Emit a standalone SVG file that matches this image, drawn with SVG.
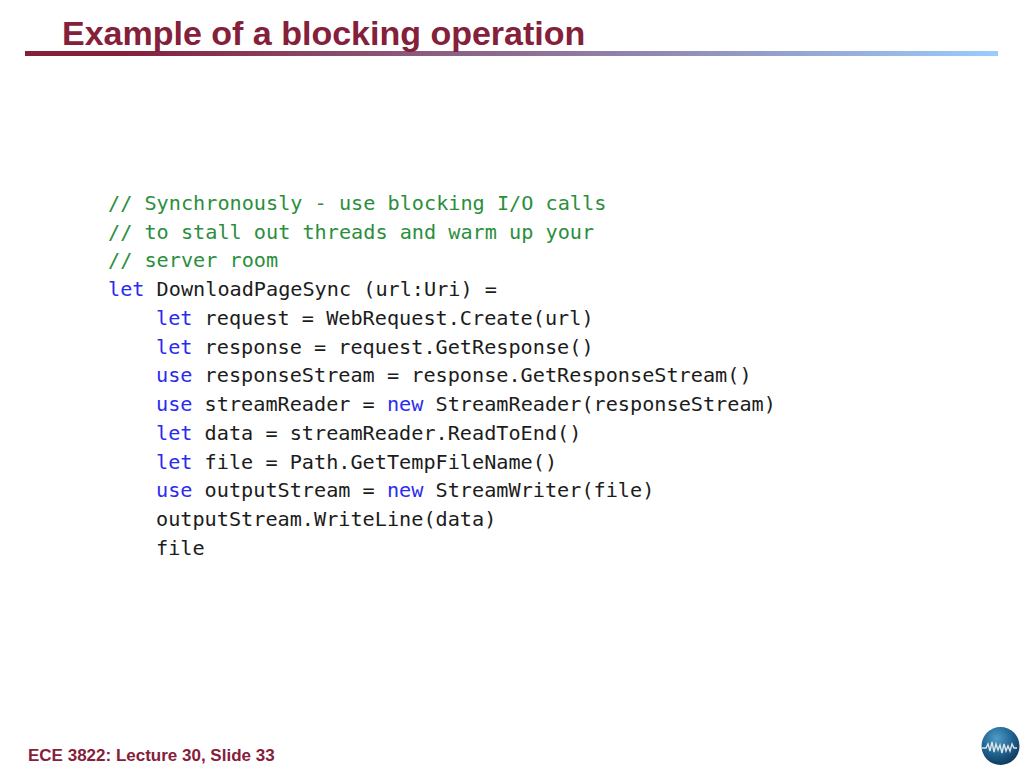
<svg xmlns="http://www.w3.org/2000/svg" width="1024" height="768" viewBox="0 0 1024 768">
<style>
.h{font-family:"Liberation Sans",Arial,sans-serif;font-weight:700;fill:#85203b}
.c{font-family:"DejaVu Sans Mono","Liberation Mono",monospace;font-size:20.2px;fill:#1c1c1c;white-space:pre}
.k{fill:#2b2bf0}
.g{fill:#2a8f3c}
</style>
<defs>
<linearGradient id="bar" x1="0" x2="1" y1="0" y2="0"><stop offset="0" stop-color="#85203b"/><stop offset="0.1" stop-color="#85203b"/><stop offset="1" stop-color="#99ccff"/></linearGradient>
<radialGradient id="globe" cx="0.4" cy="0.3" r="0.8"><stop offset="0" stop-color="#4f9cc8"/><stop offset="0.55" stop-color="#1d5f8c"/><stop offset="1" stop-color="#0d2d4a"/></radialGradient>
</defs>
<rect width="1024" height="768" fill="#fff"/>
<rect x="25" y="51" width="973" height="5" fill="url(#bar)"/>
<text class="h" x="62" y="45" font-size="34">Example of a blocking operation</text>
<g>
<text class="c g" x="108" y="210">// Synchronously - use blocking I/O calls</text>
<text class="c g" x="108" y="239">// to stall out threads and warm up your</text>
<text class="c g" x="108" y="267">// server room</text>
<text class="c" x="108" y="296"><tspan class="k">let</tspan> DownloadPageSync (url:Uri) =</text>
<text class="c" x="156" y="325"><tspan class="k">let</tspan> request = WebRequest.Create(url)</text>
<text class="c" x="156" y="354"><tspan class="k">let</tspan> response = request.GetResponse()</text>
<text class="c" x="156" y="382"><tspan class="k">use</tspan> responseStream = response.GetResponseStream()</text>
<text class="c" x="156" y="411"><tspan class="k">use</tspan> streamReader = <tspan class="k">new</tspan> StreamReader(responseStream)</text>
<text class="c" x="156" y="440"><tspan class="k">let</tspan> data = streamReader.ReadToEnd()</text>
<text class="c" x="156" y="469"><tspan class="k">let</tspan> file = Path.GetTempFileName()</text>
<text class="c" x="156" y="497"><tspan class="k">use</tspan> outputStream = <tspan class="k">new</tspan> StreamWriter(file)</text>
<text class="c" x="156" y="526">outputStream.WriteLine(data)</text>
<text class="c" x="156" y="555">file</text>
</g>
<text class="h" x="28" y="761" font-size="17">ECE 3822: Lecture 30, Slide 33</text>
<g id="logo">
<circle cx="1000.5" cy="746" r="19" fill="url(#globe)"/>
<path d="M982 748h4l2-4 2 7 2-9 2 10 2-8 2 6 2-5 2 8 2-9 2 7 2-5 2 5 2-7 2 4h3" fill="none" stroke="#dde4e8" stroke-width="1.4"/>
</g>
</svg>
